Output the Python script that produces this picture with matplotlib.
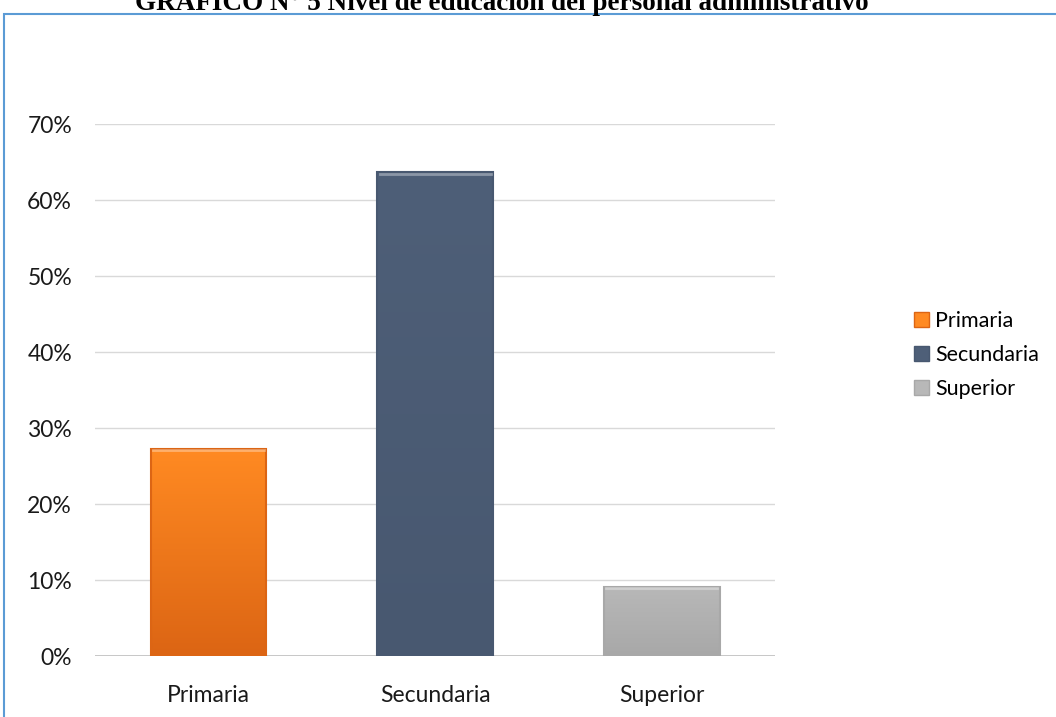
import numpy as np
import matplotlib
matplotlib.use('Agg')
import matplotlib.pyplot as plt
from matplotlib.patches import Rectangle
from matplotlib.colors import LinearSegmentedColormap

# datos
categorias = ['Primaria', 'Secundaria', 'Superior']
porcentajes = [0.2727, 0.6364, 0.0909]
colores_top = ['#FF8A22', '#4E5F78', '#B8B8B8']
colores_bot = ['#DC6514', '#485870', '#A8A8A8']
yticks = [0, 0.1, 0.2, 0.3, 0.4, 0.5, 0.6, 0.7]

plt.rcParams['font.family'] = ['Lato', 'DejaVu Sans']

fig = plt.figure(figsize=(10.56, 7.17), dpi=100)
ax = fig.add_axes([0.09, 0.085, 0.644, 0.742])

# marco azul
fig.patches.append(Rectangle((4 / 1056, -0.1), 1.2, 1 - 14 / 717 + 0.1,
                             transform=fig.transFigure, fill=False,
                             edgecolor='#5B9BD5', linewidth=1.5))

# titulo (cortado arriba)
fig.text(0.475, 1 - 10 / 717, 'GRÁFICO N° 5 Nivel de educación del personal administrativo',
         ha='center', va='baseline', fontsize=19.5, fontweight='bold',
         family='Liberation Serif')

x = np.arange(len(categorias))
bars = ax.bar(x, porcentajes, width=0.51, color=colores_top,
              edgecolor='none', zorder=2)

# degradado en cada barra
for b, c1, c2 in zip(bars, colores_top, colores_bot):
    cmap = LinearSegmentedColormap.from_list('g', [c2, c1])
    x0, y0 = b.get_x(), b.get_y()
    w, h = b.get_width(), b.get_height()
    grad = np.linspace(0, 1, 100).reshape(-1, 1)
    im = ax.imshow(grad, cmap=cmap, origin='lower', aspect='auto',
                   extent=(x0, x0 + w, y0, y0 + h), zorder=3)
    im.set_clip_path(b)
    # borde biselado
    ax.add_patch(Rectangle((x0, y0), w, h, fill=False, edgecolor=c2,
                           linewidth=1.5, zorder=4))
    ax.plot([x0 + 0.01, x0 + w - 0.01], [y0 + h - 0.002] * 2,
            color='white', alpha=0.35, linewidth=2, zorder=5)

ax.set_xlim(-0.5, 2.5)
ax.set_ylim(0, 0.7)
ax.set_yticks(yticks)
ax.set_yticklabels([f'{int(round(v * 100))}%' for v in yticks])
ax.set_xticks(x)
ax.set_xticklabels(categorias)
ax.tick_params(axis='both', length=0, labelsize=16.5, colors='#1A1A1A')
ax.tick_params(axis='y', pad=16.5)
ax.tick_params(axis='x', pad=21)
ax.grid(axis='y', color='#D9D9D9', linewidth=1, zorder=0)
for s in ax.spines.values():
    s.set_visible(False)
ax.axhline(0, color='#BFBFBF', linewidth=2, zorder=1)

handles = [Rectangle((0, 0), 1, 1, facecolor=c, edgecolor=e, linewidth=1)
           for c, e in zip(colores_top, colores_bot)]
fig.legend(handles, categorias, loc='center left',
           bbox_to_anchor=(0.847, 0.505), frameon=False, fontsize=15.5,
           handlelength=0.7, handleheight=0.7, handletextpad=0.3,
           labelspacing=0.65)

fig.savefig('out.png', dpi=100)
